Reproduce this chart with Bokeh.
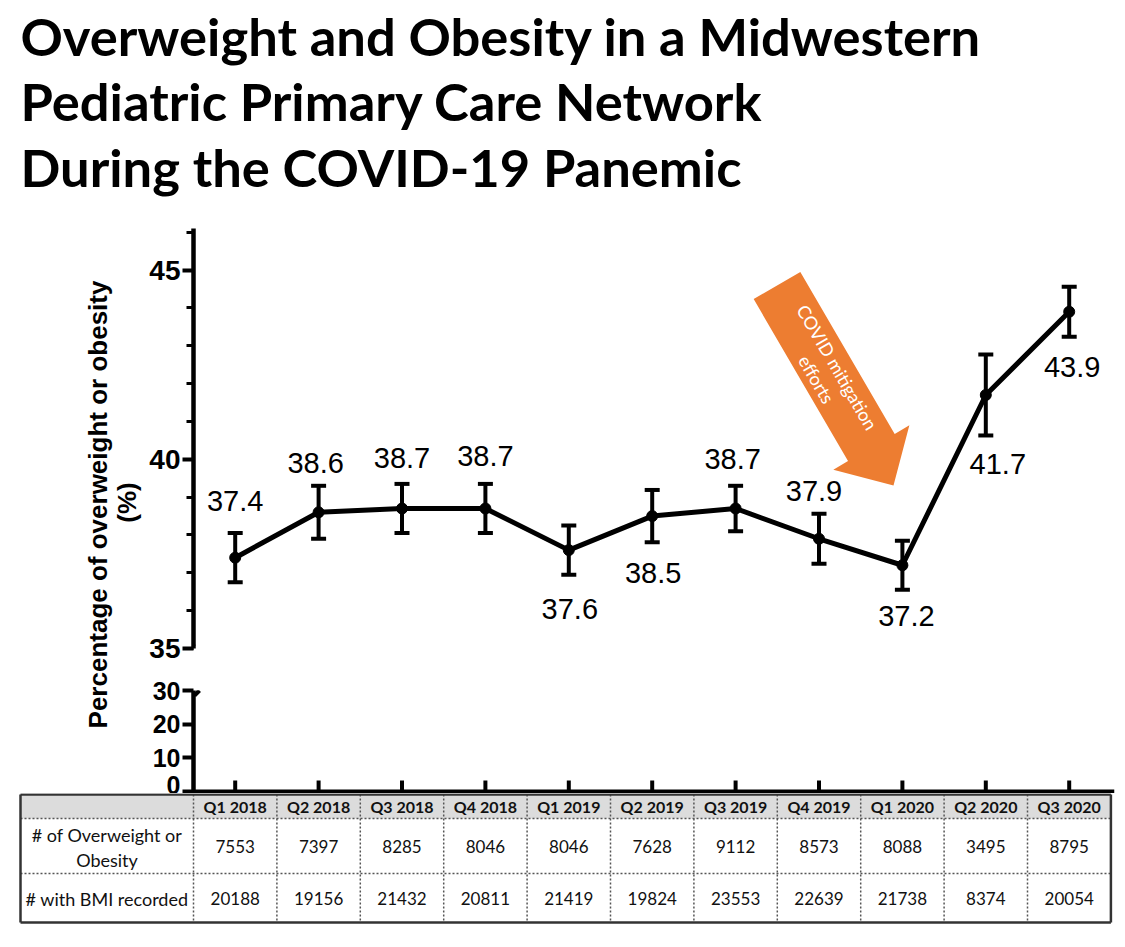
import math
from bokeh.plotting import figure
from bokeh.layouts import column, row
from bokeh.models import Range1d, SingleIntervalTicker, FixedTicker, Arrow, Span
from bokeh.core.properties import value
from bokeh.embed import file_html
from bokeh.resources import INLINE

# ---------------- data ----------------
quarters = ["Q1 2018", "Q2 2018", "Q3 2018", "Q4 2018", "Q1 2019", "Q2 2019",
            "Q3 2019", "Q4 2019", "Q1 2020", "Q2 2020", "Q3 2020"]
pct = [37.4, 38.6, 38.7, 38.7, 37.6, 38.5, 38.7, 37.9, 37.2, 41.7, 43.9]
err = [0.65, 0.70, 0.65, 0.65, 0.65, 0.69, 0.60, 0.66, 0.65, 1.07, 0.66]
n_overweight = [7553, 7397, 8285, 8046, 8046, 7628, 9112, 8573, 8088, 3495, 8795]
n_bmi = [20188, 19156, 21432, 20811, 21419, 19824, 23553, 22639, 21738, 8374, 20054]
row_label_1 = ["# of Overweight or", "Obesity"]
row_label_2 = "# with BMI recorded"
title_lines = ["Overweight and Obesity in a Midwestern",
               "Pediatric Primary Care Network",
               "During the COVID-19 Panemic"]
y_title = ["Percentage of overweight or obesity", "(%)"]
arrow_text = ["COVID mitigation", "efforts"]
upper_ticks_interval = 5
lower_ticks = [0, 10, 20, 30]

# ---------------- layout constants ----------------
PAGE_W = 1120
LBL_W = 146
PLOT_W = PAGE_W - LBL_W
BORDER_L, BORDER_R = 47, 6
FRAME_W = PLOT_W - BORDER_L - BORDER_R
PX = 83.4
X0 = -0.5
X1 = X0 + FRAME_W / PX

TITLE_H = 208
UP_H, UP_T, UP_B = 457, 20, 17
UP_FRAME = UP_H - UP_T - UP_B
Y_LO, Y_HI = 35, 46.1
UP_PPU = UP_FRAME / (Y_HI - Y_LO)
LOW_H, LOW_T = 128, 25
LOW_FRAME = LOW_H - LOW_T
LOW_PPU = 101 / 30.0
LOW_START = -(LOW_FRAME - 101) / LOW_PPU
TABLE_H = 132

FRAME_LEFT_PAGE = LBL_W + BORDER_L
FRAME_BOTTOM_PAGE = TITLE_H + UP_T + UP_FRAME


def up_x(px):
    return X0 + (px - FRAME_LEFT_PAGE) / PX


def up_y(py):
    return Y_LO + (FRAME_BOTTOM_PAGE - py) / UP_PPU


def base_fig(w, h, xr, yr, **kw):
    p = figure(width=w, height=h, x_range=xr, y_range=yr, toolbar_location=None,
               output_backend="svg", **kw)
    p.outline_line_color = None
    p.background_fill_color = "white"
    p.border_fill_color = "white"
    return p


# ---------------- title ----------------
tf = base_fig(PAGE_W, TITLE_H, Range1d(0, PAGE_W), Range1d(TITLE_H, 0),
              x_axis_location=None, y_axis_location=None, min_border=0)
tf.grid.visible = False
tf.text(x=[20, 20, 20], y=[35, 100, 166], text=title_lines,
        text_font=value("Lato"), text_font_style="bold", text_font_size="52.5px",
        text_baseline="alphabetic", text_align="left", text_color="black")

# ---------------- y axis title ----------------
LBL_H = UP_H + LOW_H
lf = base_fig(LBL_W, LBL_H, Range1d(0, LBL_W), Range1d(0, LBL_H),
              x_axis_location=None, y_axis_location=None, min_border=0)
lf.grid.visible = False
lf.text(x=[97, 126], y=[289, 291], text=y_title, angle=math.pi / 2,
        text_font=value("Liberation Sans"), text_font_style="bold",
        text_font_size="26px", text_align="center", text_baseline="middle",
        text_color="black")

# ---------------- upper chart ----------------
xr = Range1d(X0, X1)
up = base_fig(PLOT_W, UP_H, xr, Range1d(Y_LO, Y_HI), x_axis_location=None,
              min_border_left=BORDER_L, min_border_right=BORDER_R,
              min_border_top=UP_T, min_border_bottom=UP_B)
up.grid.visible = False
ay = up.yaxis[0]
ay.ticker = SingleIntervalTicker(interval=upper_ticks_interval, num_minor_ticks=5)
ay.axis_line_width = 4.5
ay.axis_line_color = "black"
ay.major_tick_line_width = 4
ay.major_tick_out = 11
ay.major_tick_in = 0
ay.minor_tick_line_width = 3
ay.minor_tick_out = 7
ay.minor_tick_in = 0
ay.major_label_text_font = "Liberation Sans"
ay.major_label_text_font_style = "bold"
ay.major_label_text_font_size = "28px"
ay.major_label_text_color = "black"
ay.major_label_standoff = 2

idx = list(range(len(quarters)))
lo_e = [v - e for v, e in zip(pct, err)]
hi_e = [v + e for v, e in zip(pct, err)]

# orange arrow annotation
A_START = (776.5, 285.0)
A_TIP = (893.0, 485.0)
SHAFT_HALF, HEAD_HALF, HEAD_LEN = 27.0, 44.0, 44.0
ddx, ddy = A_TIP[0] - A_START[0], A_TIP[1] - A_START[1]
AL = math.hypot(ddx, ddy)
ux, uy = ddx / AL, ddy / AL
nx, ny = uy, -ux


def apt(a, c):
    return (A_START[0] + a * ux + c * nx, A_START[1] + a * uy + c * ny)


se = AL - HEAD_LEN
poly = [apt(0, SHAFT_HALF), apt(se, SHAFT_HALF), apt(se, HEAD_HALF), apt(AL, 0),
        apt(se, -HEAD_HALF), apt(se, -SHAFT_HALF), apt(0, -SHAFT_HALF)]
up.patch([up_x(p[0]) for p in poly], [up_y(p[1]) for p in poly],
         fill_color="#ED7D31", line_color=None)
t1 = apt(101, 11)
t2 = apt(101, -13)
up.text(x=[up_x(t1[0]), up_x(t2[0])], y=[up_y(t1[1]), up_y(t2[1])], text=arrow_text,
        angle=-math.atan2(ddy, ddx), text_font=value("Lato"), text_font_size="18px",
        text_color="white", text_align="center", text_baseline="middle")

# data
up.line(idx, pct, line_width=5, line_color="black")
up.segment(idx, lo_e, idx, hi_e, line_width=4, line_color="black")
up.scatter(idx + idx, lo_e + hi_e, marker="dash", size=15, line_width=4, line_color="black")
up.scatter(idx, pct, size=11, fill_color="black", line_color="black")

label_dx = [0, -3, 0, 0, 1, 1, -3, -5, 4, 12, 3]
label_dy = [57, 49, 51, 53, -59, -57, 50, 48, -51, -69, -55]
up.text(x=[i + dx / PX for i, dx in zip(idx, label_dx)],
        y=[v + dy / UP_PPU for v, dy in zip(pct, label_dy)],
        text=[f"{v:.1f}" for v in pct],
        text_font=value("Liberation Sans"), text_font_size="29px",
        text_align="center", text_baseline="middle", text_color="black")

# axis break mark (upper)
brk_u = [(1, 5), (-6, 0), (7, -7)]
for (a, b), (c, d) in zip(brk_u[:-1], brk_u[1:]):
    up.add_layout(Arrow(end=None, x_start=X0 + a / PX, y_start=Y_LO + b / UP_PPU,
                        x_end=X0 + c / PX, y_end=Y_LO + d / UP_PPU,
                        line_width=4, line_color="black"))

# ---------------- lower chart ----------------
lo = base_fig(PLOT_W, LOW_H, xr, Range1d(LOW_START, 30), x_axis_location=None,
              min_border_left=BORDER_L, min_border_right=BORDER_R,
              min_border_top=LOW_T, min_border_bottom=0)
lo.grid.visible = False
ly = lo.yaxis[0]
ly.ticker = FixedTicker(ticks=lower_ticks)
ly.axis_line_width = 4.5
ly.major_tick_line_width = 4
ly.major_tick_out = 11
ly.major_tick_in = 0
ly.minor_tick_out = 0
ly.major_label_text_font = "Liberation Sans"
ly.major_label_text_font_style = "bold"
ly.major_label_text_font_size = "25px"
ly.major_label_text_color = "black"
ly.major_label_standoff = 2
# x axis line and category ticks
lo.add_layout(Span(location=0, dimension="width", line_width=4, line_color="black"))
lo.segment(idx, [0] * len(idx), idx, [11 / LOW_PPU] * len(idx), line_width=4,
           line_color="black")

brk_l = [(-6, 9), (6, 0), (1, -5)]
for (a, b), (c, d) in zip(brk_l[:-1], brk_l[1:]):
    lo.add_layout(Arrow(end=None, x_start=X0 + a / PX, y_start=30 + b / LOW_PPU,
                        x_end=X0 + c / PX, y_end=30 + d / LOW_PPU,
                        line_width=4, line_color="black"))

# ---------------- table ----------------
TX0 = X0 + (0 - FRAME_LEFT_PAGE) / PX
TX1 = X0 + (PAGE_W - FRAME_LEFT_PAGE) / PX
tb = base_fig(PAGE_W, TABLE_H, Range1d(TX0, TX1), Range1d(TABLE_H, 0),
              x_axis_location=None, y_axis_location=None, min_border=0)
tb.grid.visible = False
TL = X0 + (20 - FRAME_LEFT_PAGE) / PX
TR = len(quarters) - 0.5
R0, R1, R2, R3 = 1, 25, 80, 129
tb.quad(left=[TL], right=[TR], top=[R0], bottom=[R1], fill_color="#DCDCDC", line_color=None)
vx = [i + 0.5 for i in range(-1, len(quarters) - 1)]
tb.multi_line(xs=[[v, v] for v in vx] + [[TL, TR], [TL, TR]],
              ys=[[R0, R3] for _ in vx] + [[R1, R1], [R2, R2]],
              line_color="#555555", line_width=1.5, line_dash="2 2")
tb.multi_line(xs=[[TL, TR], [TL, TR], [TL, TL], [TR, TR]],
              ys=[[R0, R0], [R3, R3], [R0, R3], [R0, R3]],
              line_color="#333333", line_width=2.5)
FC = (TL + X0) / 2
tb.text(x=idx, y=[13] * len(idx), text=quarters, text_font=value("Lato"),
        text_font_style="bold", text_font_size="16px", text_align="center",
        text_baseline="middle", text_color="#111111")
tb.text(x=idx, y=[53] * len(idx), text=[str(v) for v in n_overweight],
        text_font=value("Lato"), text_font_size="17px", text_align="center",
        text_baseline="middle", text_color="#111111")
tb.text(x=idx, y=[105] * len(idx), text=[str(v) for v in n_bmi],
        text_font=value("Lato"), text_font_size="17px", text_align="center",
        text_baseline="middle", text_color="#111111")
tb.text(x=[FC, FC, FC], y=[41, 66, 105], text=row_label_1 + [row_label_2],
        text_font=value("Lato"), text_font_size="18px", text_align="center",
        text_baseline="middle", text_color="#111111")

layout = column(tf, row(lf, column(up, lo)), tb)
open("out.html", "w").write(file_html(layout, INLINE))
